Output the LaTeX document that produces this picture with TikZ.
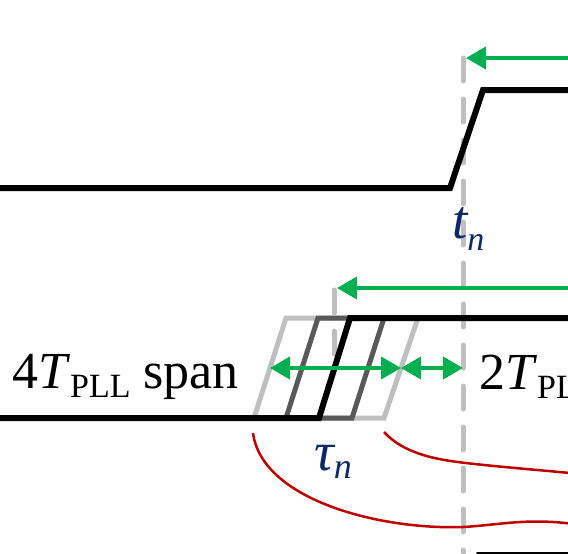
\documentclass[tikz,border=0pt]{standalone}
\usepackage{fontspec}
\setmainfont{Liberation Serif}
\usetikzlibrary{arrows.meta}
\definecolor{sigGreen}{HTML}{00B050}
\definecolor{lblNavy}{HTML}{0B2A63}
\definecolor{curveRed}{HTML}{C00000}
\definecolor{spanLight}{HTML}{BFBFBF}
\definecolor{spanDark}{HTML}{595959}
\newcommand{\subtxt}[3][9pt]{\raisebox{-#1}{\fontsize{#2}{#2}\selectfont #3}}

\begin{document}
\begin{tikzpicture}[
    x=1pt, y=-1pt,
    sig/.style={line width=6pt, line join=miter, black},
    span/.style={line width=5pt, line join=miter},
    guide/.style={line width=5pt, spanLight, line cap=round,
        dash pattern=on 23pt off 18pt},
    garr/.style={line width=4pt, sigGreen,
        -{Triangle[length=20pt, width=22pt]}},
    gdbl/.style={line width=4pt, sigGreen,
        {Triangle[length=20pt, width=22pt]}-{Triangle[length=20pt, width=22pt]}},
    redc/.style={line width=2.5pt, curveRed},
    lbl/.style={inner sep=0pt, anchor=base west, font=\fontsize{52}{54}\selectfont},
    var/.style={lbl, text=lblNavy, font=\fontsize{55}{57}\selectfont\itshape}
]
\useasboundingbox (0,0) rectangle (568,554);
\clip (0,0) rectangle (568,554);

% reference instant
\draw[guide] (463,58) -- (463,570);

% upper signal
\coordinate (upLow)  at (450,188);
\coordinate (upHigh) at (483,90);
\draw[sig] (-10,188) -- (upLow) -- (upHigh) -- (580,90);
\draw[garr] (580,58) -- (466,58);
\node[var] (tn) at (452,238) {t\subtxt[12pt]{34}{n}};

% lower signal with 4T span
\draw[span, spanLight] (254,418) -- (286,318) -- (418,318) -- (384,418) -- cycle;
\draw[span, spanDark]  (286,418) -- (318,318) -- (384,318) -- (352,418) -- cycle;
\draw[guide] (334,290) -- (334,360);
\coordinate (loLow)  at (319,418);
\coordinate (loHigh) at (350,318);
\draw[sig] (-10,418) -- (loLow) -- (loHigh) -- (580,318);
\draw[garr] (580,288) -- (337,288);

\coordinate (spanL) at (270,368);
\coordinate (spanR) at (401,368);
\coordinate (refPt) at (463,368);
\draw[gdbl] (spanL) -- (spanR);
\draw[gdbl] (spanR) -- (refPt);

\node[lbl] (spanTxt) at (12,388) {4{\itshape T}\hspace{3pt}\subtxt{34}{PLL} span};
\node[lbl] (gapTxt)  at (479,389) {2{\itshape T}\hspace{3pt}\subtxt{34}{PLL}};
\node[var] (taun) at (314,470) {τ\subtxt[8pt]{36}{n}};

% red brackets
\draw[redc] (253,433) .. controls (262,500) and (380,530) .. (463,527)
    .. controls (500,525) and (530,517) .. (580,525);
\draw[redc] (384,432) .. controls (405,455) and (440,460) .. (466,463)
    .. controls (500,467) and (540,470) .. (580,474);

% third signal (edge of view)
\draw[sig] (466,590) -- (479,555) -- (580,555);
\end{tikzpicture}
\end{document}
